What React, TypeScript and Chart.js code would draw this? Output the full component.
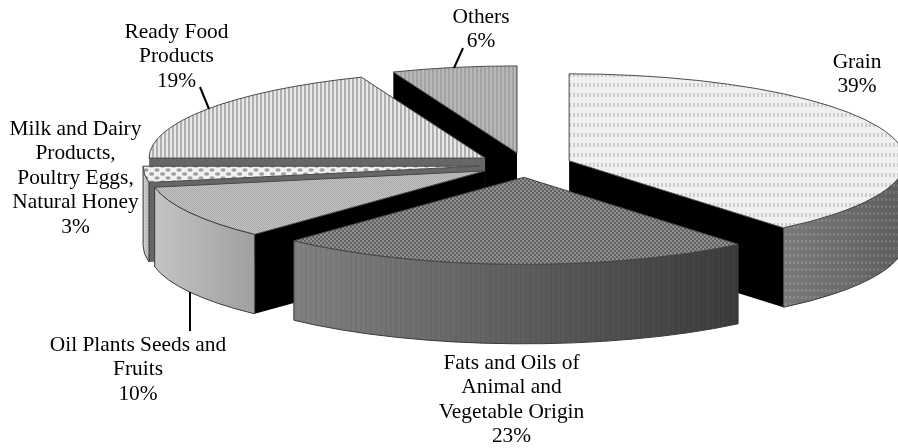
import React, { useEffect, useRef } from "react";
import { Chart, registerables } from "chart.js";

Chart.register(...registerables);

// ---- data ----
const categories = [
  ["Grain"],
  ["Fats and Oils of", "Animal and", "Vegetable Origin"],
  ["Oil Plants Seeds and", "Fruits"],
  ["Milk and Dairy", "Products,", "Poultry Eggs,", "Natural Honey"],
  ["Ready Food", "Products"],
  ["Others"],
];
const shares = [39, 23, 10, 3, 19, 6];
const explosion = [29.6, 29.6, 29.6, 29.6, 29.6, 29.6];

// ---- presentation ----
const FONT = '21.4px "Liberation Serif", "Times New Roman", serif';
const LINE = 24.4;
const PIE_CX = 523.4;
const PIE_CY = 165;
const RX = 336;
const RY = 87;
const DEPTH = 79.5;
const nudgeX = [1, 2, 3, 3, 1, 2.5];
const paintOrder = [5, 4, 3, 2, 0, 1];
const wallColors = ["#000000", "#000000", "#000000", "#666666", "#666666", "#000000"];
const sideStops = [
  ["#7a7a7a", "#5c5c5c"],
  ["#828282", "#3c3c3c"],
  ["#c0c0c0", "#989898"],
  ["#d0d0d0", "#b0b0b0"],
  ["#888888", "#888888"],
  ["#888888", "#888888"],
];
const labelAnchors = [
  [857, 68],
  [511.5, 369],
  [138, 351],
  [75.5, 135],
  [176.5, 38],
  [481, 23],
];
const leaders = [
  [200, 87, 209, 109],
  [190, 292, 190, 331],
  [463, 48, 454, 68],
];

function tile(w: number, h: number, paint: (c: CanvasRenderingContext2D) => void) {
  const cv = document.createElement("canvas");
  cv.width = w;
  cv.height = h;
  const c = cv.getContext("2d") as CanvasRenderingContext2D;
  paint(c);
  return c.createPattern(cv, "repeat") as CanvasPattern;
}

function rectTile(w: number, h: number, bg: string | null, fg: string, rects: number[][]) {
  return tile(w, h, (c) => {
    if (bg) {
      c.fillStyle = bg;
      c.fillRect(0, 0, w, h);
    }
    c.fillStyle = fg;
    rects.forEach((r) => c.fillRect(r[0], r[1], r[2], r[3]));
  });
}

function makeTopPatterns() {
  const milk = tile(11, 8, (c) => {
    c.fillStyle = "#f2f2f2";
    c.fillRect(0, 0, 11, 8);
    c.fillStyle = "#a0a0a0";
    c.beginPath();
    c.ellipse(3, 2, 2.6, 1.8, 0, 0, Math.PI * 2);
    c.fill();
    c.beginPath();
    c.ellipse(8.5, 6, 2.6, 1.8, 0, 0, Math.PI * 2);
    c.fill();
  });
  return [
    rectTile(4, 10, "#f0f0f0", "#cccccc", [[1, 3, 2, 4]]),
    rectTile(4, 4, "#909090", "#626262", [[0, 0, 2, 2], [2, 2, 2, 2]]),
    rectTile(2, 2, "#c4c4c4", "#a8a8a8", [[0, 0, 1, 1], [1, 1, 1, 1]]),
    milk,
    rectTile(4, 4, "#e8e8e8", "#b0b0b0", [[0, 0, 2, 4]]),
    rectTile(4, 4, "#b8b8b8", "#a2a2a2", [[0, 0, 2, 4]]),
  ];
}

function makeSidePatterns() {
  return [
    rectTile(4, 7, null, "rgba(255,255,255,0.14)", [[1, 2, 2, 3]]),
    rectTile(5, 4, null, "rgba(0,0,0,0.05)", [[0, 0, 2, 4]]),
    rectTile(2, 2, null, "rgba(255,255,255,0.14)", [[0, 0, 1, 1], [1, 1, 1, 1]]),
    rectTile(3, 3, null, "rgba(255,255,255,0.25)", [[0, 0, 1, 1]]),
    rectTile(4, 4, null, "rgba(0,0,0,0)", []),
    rectTile(4, 4, null, "rgba(0,0,0,0)", []),
  ];
}

function makePie3dPlugin(sides: CanvasPattern[]) {
  return {
    id: "pie3d",
    beforeDatasetsDraw(chart: any) {
      const ctx: CanvasRenderingContext2D = chart.ctx;
      const arcs = chart.getDatasetMeta(0).data;
      ctx.save();
      ctx.lineJoin = "round";
      paintOrder.forEach((i) => {
        const arc = arcs[i];
        const R = arc.outerRadius;
        const a0 = arc.startAngle;
        const a1 = arc.endAngle;
        const mid = (a0 + a1) / 2;
        const off = arc.options.offset;
        const ax = PIE_CX + nudgeX[i] + (Math.cos(mid) * off * RX) / R;
        const ay = PIE_CY + (Math.sin(mid) * off * RY) / R;
        const px = (a: number) => ax + Math.cos(a) * RX;
        const py = (a: number) => ay + Math.sin(a) * RY;

        // radial walls
        [a0, a1].forEach((a) => {
          ctx.beginPath();
          ctx.moveTo(ax, ay);
          ctx.lineTo(px(a), py(a));
          ctx.lineTo(px(a), py(a) + DEPTH);
          ctx.lineTo(ax, ay + DEPTH);
          ctx.closePath();
          ctx.fillStyle = wallColors[i];
          ctx.fill();
        });

        // outer wall: the part of the rim on the near half of the ellipse
        const from = Math.max(a0, 0);
        const to = Math.min(a1, Math.PI);
        if (to > from) {
          ctx.beginPath();
          ctx.ellipse(ax, ay, RX, RY, 0, from, to);
          ctx.ellipse(ax, ay + DEPTH, RX, RY, 0, to, from, true);
          ctx.closePath();
          const g = ctx.createLinearGradient(px(to), 0, px(from), 0);
          g.addColorStop(0, sideStops[i][0]);
          g.addColorStop(1, sideStops[i][1]);
          ctx.fillStyle = g;
          ctx.fill();
          ctx.fillStyle = sides[i];
          ctx.fill();
          ctx.strokeStyle = "#3a3a3a";
          ctx.lineWidth = 1;
          ctx.stroke();
        }

        // top face
        ctx.beginPath();
        ctx.moveTo(ax, ay);
        ctx.ellipse(ax, ay, RX, RY, 0, a0, a1);
        ctx.closePath();
        ctx.fillStyle = arc.options.backgroundColor;
        ctx.fill();
        ctx.strokeStyle = "#4a4a4a";
        ctx.lineWidth = 1;
        ctx.stroke();
      });
      ctx.restore();
      return false;
    },
    afterDraw(chart: any) {
      const ctx: CanvasRenderingContext2D = chart.ctx;
      ctx.save();
      ctx.strokeStyle = "#000000";
      ctx.lineWidth = 2;
      leaders.forEach((l) => {
        ctx.beginPath();
        ctx.moveTo(l[0], l[1]);
        ctx.lineTo(l[2], l[3]);
        ctx.stroke();
      });
      ctx.fillStyle = "#000000";
      ctx.font = FONT;
      ctx.textAlign = "center";
      ctx.textBaseline = "alphabetic";
      categories.forEach((lines, i) => {
        const all = [...lines, `${shares[i]}%`];
        all.forEach((t, k) => ctx.fillText(t, labelAnchors[i][0], labelAnchors[i][1] + k * LINE));
      });
      ctx.restore();
    },
  };
}

export default function App() {
  const ref = useRef<HTMLCanvasElement | null>(null);
  useEffect(() => {
    const chart: any = new Chart(ref.current as HTMLCanvasElement, {
      type: "pie",
      data: {
        labels: categories.map((c) => c.join(" ")),
        datasets: [
          {
            data: shares,
            offset: explosion,
            borderWidth: 0,
            backgroundColor: makeTopPatterns(),
          } as any,
        ],
      },
      options: {
        responsive: false,
        animation: false,
        events: [],
        layout: { padding: 0 },
        plugins: { legend: { display: false }, tooltip: { enabled: false } },
      },
      plugins: [makePie3dPlugin(makeSidePatterns())],
    } as any);
    return () => chart.destroy();
  }, []);
  return (
    <div style={{ position: "absolute", left: 0, top: 0, width: 898, height: 448, overflow: "hidden" }}>
      <canvas ref={ref} width={898} height={448} style={{ display: "block", filter: "blur(0.4px)" }} />
    </div>
  );
}
